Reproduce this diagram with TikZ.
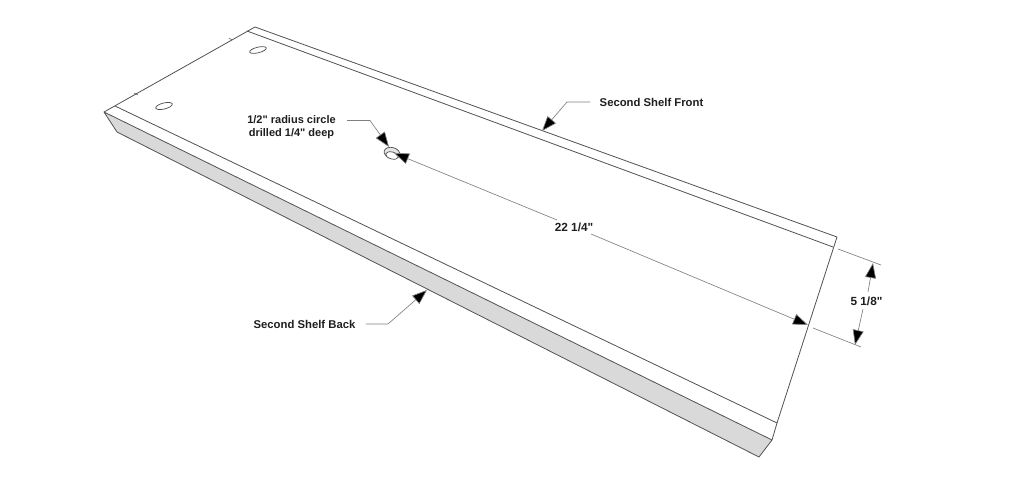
\documentclass[tikz,border=0pt]{standalone}
\usepackage{fontspec}
\setmainfont{Liberation Sans}[Ligatures=TeXOff]
\usetikzlibrary{arrows.meta}
\tikzset{
  edgeline/.style={draw=black!68,line width=0.8pt,line join=round},
  leader/.style={draw=black!50,line width=0.65pt},
  arrowed/.style={-{Triangle[length=15pt,width=11pt,fill=black]}},
  lbl/.style={font=\bfseries\fontsize{11.3}{13}\selectfont,text=black!88,align=center,inner sep=0pt},
  holeline/.style={draw=black!70,line width=0.7pt}
}
\begin{document}
\begin{tikzpicture}[x=1pt,y=-1pt]
\useasboundingbox (0,0) rectangle (1024,492);
\fill[white] (0,0) rectangle (1024,492);
% corners
\coordinate (bl) at (104,112);
\coordinate (blin) at (115,106);
\coordinate (top) at (255,27);
\coordinate (topin) at (247,31);
\coordinate (tr) at (837,237);
\coordinate (trin) at (833,247);
\coordinate (brin) at (777,423);
\coordinate (br) at (772,440);
\coordinate (tip) at (759,457);
\coordinate (lowl) at (117,132);
% side face
\fill[black!15] (bl) -- (br) -- (tip) -- (lowl) -- cycle;
\draw[edgeline] (bl) -- (br) -- (tip) -- (lowl) -- cycle;
% top face
\draw[edgeline] (bl) -- (top) -- (tr) -- (brin) -- (br);
\draw[edgeline] (topin) -- (trin);
\draw[edgeline] (blin) -- (brin);
% ticks
\draw[edgeline,line width=0.5pt] (134,93) -- (138,95);
\draw[edgeline,line width=0.5pt] (229,38) -- (232,40);
% holes
\draw[holeline] (258,50) ellipse [x radius=8.5,y radius=2.8,rotate=14];
\draw[holeline] (164,106) ellipse [x radius=8.5,y radius=3,rotate=14];
% centre hole
\coordinate (hole) at (392,153);
\draw[holeline,fill=black!10] (hole) ellipse [x radius=8,y radius=5.5,rotate=-15];
\draw[holeline,fill=white] (392,155.5) ellipse [x radius=6.5,y radius=3.5,rotate=-15];
% labels
\node[lbl] (frontlabel) at (651.5,102.5) {Second Shelf Front};
\node[lbl] (backlabel) at (304.5,324) {Second Shelf Back};
\node[lbl,font=\bfseries\fontsize{11}{13}\selectfont] (drill) at (291.5,127.5) {1/2" radius circle\\drilled 1/4" deep};
\node[lbl,font=\bfseries\fontsize{11.8}{13}\selectfont] (len) at (574,227.5) {22 1/4"};
\node[lbl,font=\bfseries\fontsize{11.8}{13}\selectfont] (wid) at (866.5,301.5) {5 1/8"};
% leaders
\coordinate (fa) at (590,102);
\coordinate (fb) at (567,102);
\coordinate (ft) at (542,131);
\draw[leader,arrowed] (fa) -- (fb) -- (ft);
\coordinate (ba) at (366,324);
\coordinate (bb) at (388,324);
\coordinate (bt) at (427,290);
\draw[leader,arrowed] (ba) -- (bb) -- (bt);
\coordinate (da) at (347,120.5);
\coordinate (db) at (370,120.5);
\coordinate (dt) at (389,147);
\draw[leader,arrowed] (da) -- (db) -- (dt);
% dimension 22 1/4
\coordinate (la) at (394,153);
\coordinate (lam) at (557,220);
\coordinate (lbm) at (591,234);
\coordinate (lb) at (808,325);
\draw[leader,arrowed] (lam) -- (la);
\draw[leader,arrowed] (lbm) -- (lb);
% dimension 5 1/8
\coordinate (e1a) at (838,249);
\coordinate (e1b) at (881,265);
\coordinate (e2a) at (813,328);
\coordinate (e2b) at (861,347);
\draw[leader] (e1a) -- (e1b);
\draw[leader] (e2a) -- (e2b);
\coordinate (wa) at (873,263);
\coordinate (wam) at (868,292);
\coordinate (wbm) at (863,309);
\coordinate (wb) at (855,345);
\draw[leader,arrowed] (wam) -- (wa);
\draw[leader,arrowed] (wbm) -- (wb);
\end{tikzpicture}
\end{document}
